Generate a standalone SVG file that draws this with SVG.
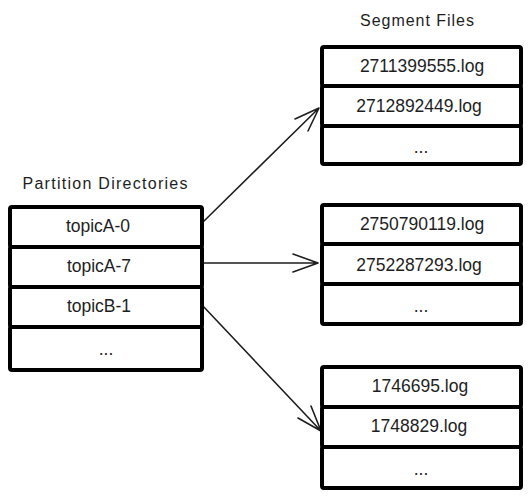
<svg xmlns="http://www.w3.org/2000/svg" width="530" height="497" viewBox="0 0 530 497">
<defs>
<style>
.row{fill:#fff;stroke:#000;stroke-width:4;stroke-linejoin:round}
.t{font-family:"Liberation Sans","DejaVu Sans",sans-serif;font-size:17.5px;fill:#1e1e1e;text-anchor:middle;dominant-baseline:central}
.h{font-family:"Liberation Sans","DejaVu Sans",sans-serif;font-size:16px;fill:#1e1e1e;text-anchor:middle;dominant-baseline:central}
.c{fill:none;stroke:#1e1e1e;stroke-width:1.6;stroke-linecap:round;stroke-linejoin:round}
</style>
</defs>
<rect width="530" height="497" fill="#fff"/>
<text class="h" x="105" y="183" textLength="165" lengthAdjust="spacing">Partition Directories</text>
<text class="h" x="417" y="20" textLength="114" lengthAdjust="spacing">Segment Files</text>
<g id="connectors">
<path class="c" d="M202 223 L319 108 M295 119 L319 108 L308 131"/>
<path class="c" d="M202 263 L318 263 M293 254 L318 263 L293 272"/>
<path class="c" d="M202 305 L321 431 M298 418 L321 431 L311 406"/>
</g>
<g id="partitions">
<g id="topicA-0"><rect class="row" x="10" y="207" width="192" height="40" rx="2"/><text class="t" x="98" y="226">topicA-0</text></g>
<g id="topicA-7"><rect class="row" x="10" y="247" width="192" height="40" rx="2"/><text class="t" x="99" y="266">topicA-7</text></g>
<g id="topicB-1"><rect class="row" x="10" y="287" width="192" height="40" rx="2"/><text class="t" x="99" y="306">topicB-1</text></g>
<g id="partition-more"><rect class="row" x="10" y="327" width="192" height="43" rx="2"/><text class="t" x="106" y="349">...</text></g>
</g>
<g id="segments-1">
<g id="seg-2711399555"><rect class="row" x="322" y="47" width="199" height="39" rx="2"/><text class="t" x="422" y="66">2711399555.log</text></g>
<g id="seg-2712892449"><rect class="row" x="322" y="86" width="199" height="40" rx="2"/><text class="t" x="419" y="106">2712892449.log</text></g>
<g id="seg1-more"><rect class="row" x="322" y="126" width="199" height="38" rx="2"/><text class="t" x="421" y="147">...</text></g>
</g>
<g id="segments-2">
<g id="seg-2750790119"><rect class="row" x="322" y="205" width="199" height="39" rx="2"/><text class="t" x="422" y="224">2750790119.log</text></g>
<g id="seg-2752287293"><rect class="row" x="322" y="244" width="199" height="40" rx="2"/><text class="t" x="419" y="265">2752287293.log</text></g>
<g id="seg2-more"><rect class="row" x="322" y="284" width="199" height="40" rx="2"/><text class="t" x="421" y="306">...</text></g>
</g>
<g id="segments-3">
<g id="seg-1746695"><rect class="row" x="322" y="367" width="199" height="40" rx="2"/><text class="t" x="420" y="386">1746695.log</text></g>
<g id="seg-1748829"><rect class="row" x="322" y="407" width="199" height="40" rx="2"/><text class="t" x="419" y="426">1748829.log</text></g>
<g id="seg3-more"><rect class="row" x="322" y="447" width="199" height="41" rx="2"/><text class="t" x="421" y="469">...</text></g>
</g>
</svg>
